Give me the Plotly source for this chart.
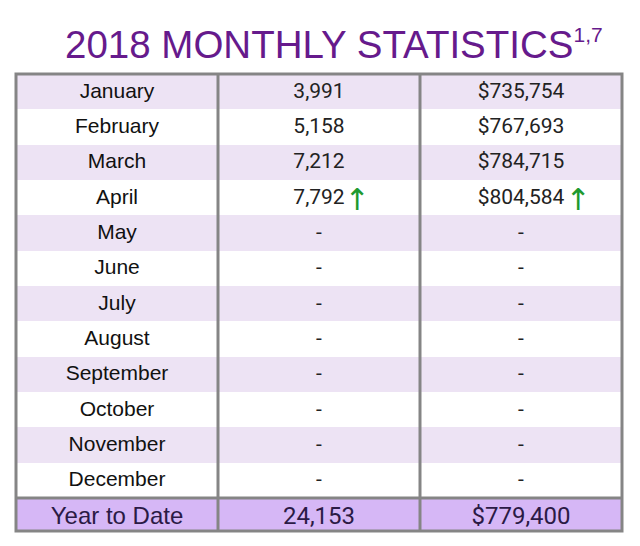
import plotly.graph_objects as go

# ── data ─────────────────────────────────────
MONTHS = ["January", "February", "March", "April", "May", "June", "July",
          "August", "September", "October", "November", "December"]
TOTAL_LABEL = "Year to Date"

# monthly sales count, None = not reported yet
SALES = [3991, 5158, 7212, 7792, None, None, None, None, None, None, None, None]
# monthly average price ($)
AVG_PRICE = [735754, 767693, 784715, 804584, None, None, None, None, None, None, None, None]

YTD_SALES = 24153
YTD_PRICE = 779400

TITLE = "2018 MONTHLY STATISTICS"
FOOTNOTES = "1,7"

# ── style ────────────────────────────────────
# page body has an 8px margin, so the figure is a bit smaller than the window
W, H = 632, 538
M_L, M_R, M_T, M_B = 8, 18, 66, 14
ROW_H = 35.33
TOTAL_H = 33

PURPLE = "#661a8c"
BAND = "#ede3f4"
WHITE = "#ffffff"
TOTAL_FILL = "#d6b7f6"
TOTAL_TEXT = "#2b1a45"
BORDER = "#858585"
ARROW = "#1e9a30"
CLEAR = "rgba(0,0,0,0)"

MONTH_FONT = "Liberation Sans, Arial, sans-serif"
NUM_FONT = "Roboto, sans-serif"
NO_HEADER = dict(values=["", "", ""], height=0, font=dict(size=1),
                 line=dict(width=0), fill=dict(color=CLEAR))


def fmt_col(values, prefix=""):
    return ["-" if v is None else f"{prefix}{v:,}" for v in values]


def rise_marks(values):
    # latest reported month gets a green arrow when it went up
    last = max(i for i, v in enumerate(values) if v is not None)
    up = last > 0 and values[last] > values[last - 1]
    return ["↑" if (i == last and up) else "" for i in range(len(values))]


k = len(MONTHS)
fills = [BAND if i % 2 == 0 else WHITE for i in range(k)]
blank = [""] * k

plot_h = H - M_T - M_B
y_total = 1.0 - k * ROW_H / plot_h

fig = go.Figure()

# monthly rows
fig.add_trace(go.Table(
    domain=dict(x=[0, 1], y=[y_total, 1]),
    columnwidth=[1, 1, 1],
    header=NO_HEADER,
    cells=dict(
        values=[MONTHS, fmt_col(SALES), fmt_col(AVG_PRICE, "$")],
        fill=dict(color=[fills, fills, fills]),
        line=dict(color=[fills, fills, fills], width=0),
        align="center",
        height=ROW_H,
        font=dict(family=[MONTH_FONT, NUM_FONT, NUM_FONT], size=21,
                  color=["#111111", "#222222", "#222222"]),
    ),
))

# green "up" arrows, a transparent layer over the monthly rows
fig.add_trace(go.Table(
    domain=dict(x=[0, 1], y=[y_total, 1]),
    columnwidth=[331, 20, 201, 20, 34],
    header=dict(values=[""] * 5, height=0, font=dict(size=1),
                line=dict(width=0), fill=dict(color=CLEAR)),
    cells=dict(
        values=[blank, rise_marks(SALES), blank, rise_marks(AVG_PRICE), blank],
        fill=dict(color=CLEAR),
        line=dict(color=CLEAR, width=0),
        align="center",
        height=ROW_H,
        font=dict(family="DejaVu Sans", size=30, color=ARROW),
    ),
))

# year-to-date row
fig.add_trace(go.Table(
    domain=dict(x=[0, 1], y=[0, y_total]),
    columnwidth=[1, 1, 1],
    header=NO_HEADER,
    cells=dict(
        values=[[TOTAL_LABEL], [f"{YTD_SALES:,}"], [f"${YTD_PRICE:,}"]],
        fill=dict(color=TOTAL_FILL),
        line=dict(color=TOTAL_FILL, width=0),
        align="center",
        height=TOTAL_H,
        font=dict(family=[MONTH_FONT, NUM_FONT, NUM_FONT], size=24, color=TOTAL_TEXT),
    ),
))

# gray grid: outer frame, column dividers, line above the total row
y_bot = y_total - TOTAL_H / plot_h
shapes = [
    dict(type="rect", x0=0, x1=1, y0=y_bot, y1=1),
    dict(type="line", x0=1 / 3, x1=1 / 3, y0=y_bot, y1=1),
    dict(type="line", x0=2 / 3, x1=2 / 3, y0=y_bot, y1=1),
    dict(type="line", x0=0, x1=1, y0=y_total, y1=y_total),
]
for s in shapes:
    s.update(xref="paper", yref="paper", line=dict(color=BORDER, width=3))

fig.update_layout(
    width=W, height=H,
    margin=dict(l=M_L, r=M_R, t=M_T, b=M_B),
    paper_bgcolor="white",
    shapes=shapes,
    annotations=[dict(
        text=f"{TITLE}<sup><span style='font-size:21px'>{FOOTNOTES}</span></sup>",
        xref="paper", yref="paper", x=(334 - 8 - M_L) / (W - M_L - M_R), y=1,
        xanchor="center", yanchor="bottom", yshift=6, showarrow=False,
        font=dict(family=MONTH_FONT, size=38.5, color=PURPLE),
    )],
)

fig.write_html("out.html")
